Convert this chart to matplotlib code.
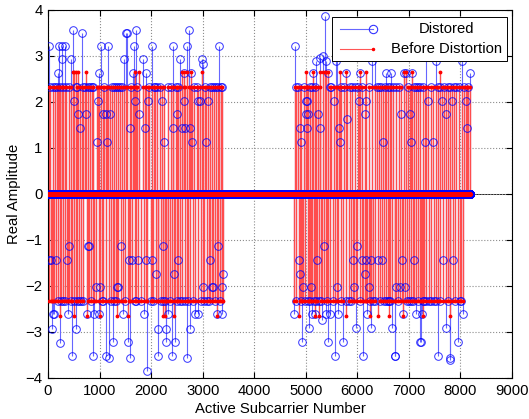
import numpy as np
import matplotlib
matplotlib.use('Agg')
import matplotlib.pyplot as plt
from matplotlib.patches import Rectangle

plt.rcParams['font.family'] = ['Liberation Sans', 'DejaVu Sans']

# Number of subcarriers (index axis)
n_sub = 8192

# Left band, positive values: subcarrier, distorted, before distortion
upl_x = [20, 45, 100, 140, 181, 200, 220, 240, 265, 275, 300, 336, 343, 400, 446, 491, 504, 543, 560, 588,
         620, 653, 685, 710, 737, 780, 814, 847, 870, 943, 976, 989, 1027, 1060, 1090, 1124, 1137, 1157, 1202,
         1250, 1285, 1318, 1350, 1400, 1440, 1473, 1512, 1538, 1589, 1620, 1641, 1673, 1686, 1706, 1730, 1770,
         1835, 1880, 1899, 1945, 1960, 2009, 2050, 2074, 2120, 2171, 2203, 2248, 2320, 2378, 2416, 2429, 2480,
         2507, 2530, 2558, 2591, 2636, 2642, 2655, 2688, 2739, 2752, 2772, 2785, 2840, 2881, 2914, 2946, 2991,
         3005, 3040, 3062, 3108, 3140, 3180, 3230, 3256, 3301, 3314, 3350, 3380]
upl_dist = [3.22, 2.33, 2.33, 2.33, 2.33, 2.62, 3.22, 2.33, 3.22, 2.93, 2.33, 3.22, 2.33, 2.33, 2.93, 3.56, 2.02,
            2.33, 2.33, 1.73, 1.43, 3.50, 2.33, 2.33, 1.73, 2.33, 2.33, 2.33, 2.33, 1.13, 2.02, 2.62, 3.22, 1.73,
            2.33, 1.73, 1.13, 3.22, 1.73, 2.33, 2.33, 2.33, 2.33, 2.33, 2.33, 2.93, 3.50, 3.50, 1.43, 2.33, 2.62,
            3.22, 2.02, 3.56, 2.33, 1.73, 2.93, 1.43, 2.62, 2.02, 2.33, 3.22, 2.33, 2.33, 2.33, 2.33, 2.02, 1.13,
            2.33, 2.33, 3.22, 1.43, 2.33, 1.73, 2.33, 2.93, 1.43, 2.02, 2.62, 1.43, 3.22, 3.56, 1.43, 2.62, 1.13,
            2.33, 2.33, 2.02, 2.02, 2.93, 2.82, 2.33, 1.13, 2.02, 2.33, 2.33, 2.33, 2.33, 2.33, 3.22, 2.33, 2.33]
upl_before = [2.33, 2.33, 2.33, 2.33, 2.33, 2.33, 2.33, 2.33, 2.33, 2.33, 2.33, 2.33, 2.33, 2.33, 2.33, 2.65,
              2.65, 2.65, 2.33, 2.65, 2.33, 2.33, 2.33, 2.33, 2.65, 2.33, 2.33, 2.33, 2.33, 2.33, 2.33, 2.33,
              2.33, 2.33, 2.33, 2.33, 2.33, 2.33, 2.33, 2.33, 2.33, 2.33, 2.33, 2.33, 2.33, 2.33, 2.33, 2.33,
              2.33, 2.33, 2.33, 2.33, 2.65, 2.33, 2.33, 2.65, 2.33, 2.33, 2.33, 2.33, 2.33, 2.33, 2.33, 2.33,
              2.33, 2.33, 2.33, 2.33, 2.33, 2.33, 2.33, 2.33, 2.33, 2.33, 2.33, 2.33, 2.65, 2.33, 2.65, 2.33,
              2.65, 2.33, 2.33, 2.65, 2.33, 2.33, 2.33, 2.33, 2.33, 2.65, 2.33, 2.33, 2.33, 2.33, 2.33, 2.33,
              2.33, 2.33, 2.33, 2.33, 2.33, 2.33]

# Left band, negative values
lol_x = [26, 58, 71, 91, 123, 155, 185, 228, 255, 297, 330, 362, 394, 414, 440, 472, 511, 548, 569, 605, 640,
         680, 750, 782, 801, 840, 879, 892, 930, 995, 1008, 1040, 1075, 1118, 1176, 1215, 1253, 1279, 1325, 1336,
         1363, 1409, 1447, 1493, 1551, 1576, 1595, 1628, 1680, 1715, 1751, 1800, 1861, 1905, 1912, 1996, 2015,
         2042, 2093, 2126, 2140, 2185, 2222, 2235, 2268, 2281, 2295, 2332, 2360, 2397, 2435, 2462, 2500, 2526,
         2565, 2597, 2650, 2701, 2725, 2760, 2817, 2849, 2901, 2960, 3011, 3024, 3080, 3120, 3146, 3172, 3204,
         3240, 3269, 3295, 3330, 3366, 3385, 3398]
lol_dist = [-1.43, -1.43, -2.93, -2.62, -2.62, -1.43, -2.33, -3.25, -2.33, -2.33, -2.33, -1.43, -2.62, -1.13,
            -2.33, -3.52, -2.33, -2.93, -2.33, -2.33, -2.33, -2.33, -2.62, -1.13, -1.13, -2.33, -3.52, -2.62,
            -2.02, -2.62, -2.02, -2.33, -2.33, -3.52, -3.56, -2.33, -3.22, -2.33, -2.33, -2.02, -2.02, -1.13,
            -2.62, -2.33, -3.22, -1.43, -3.56, -1.43, -2.33, -2.33, -1.43, -2.33, -2.62, -1.43, -3.85, -2.33,
            -1.43, -2.33, -1.73, -3.52, -2.93, -2.33, -2.33, -1.13, -2.33, -2.93, -3.22, -2.62, -2.33, -3.52,
            -1.73, -3.22, -2.33, -1.43, -2.33, -2.33, -2.33, -3.56, -2.33, -2.93, -2.33, -2.62, -2.62, -2.33,
            -2.02, -2.33, -2.33, -2.33, -1.43, -2.02, -2.02, -2.33, -2.62, -1.13, -2.33, -2.62, -2.02, -1.73]
lol_before = [-2.33, -2.33, -2.33, -2.33, -2.33, -2.33, -2.33, -2.65, -2.33, -2.33, -2.33, -2.33, -2.33, -2.33,
              -2.33, -2.33, -2.65, -2.33, -2.33, -2.33, -2.33, -2.33, -2.65, -2.33, -2.33, -2.33, -2.33, -2.33,
              -2.33, -2.33, -2.65, -2.33, -2.33, -2.33, -2.33, -2.33, -2.33, -2.33, -2.33, -2.65, -2.33, -2.33,
              -2.33, -2.33, -2.65, -2.33, -2.33, -2.33, -2.33, -2.33, -2.33, -2.33, -2.33, -2.33, -2.33, -2.33,
              -2.33, -2.33, -2.33, -2.33, -2.33, -2.33, -2.33, -2.65, -2.65, -2.33, -2.33, -2.33, -2.33, -2.33,
              -2.65, -2.33, -2.33, -2.33, -2.33, -2.33, -2.33, -2.33, -2.33, -2.33, -2.33, -2.33, -2.33, -2.33,
              -2.33, -2.33, -2.33, -2.33, -2.33, -2.33, -2.33, -2.33, -2.65, -2.33, -2.33, -2.33, -2.33, -2.33]

# Right band, positive values
upr_x = [4787, 4807, 4850, 4897, 4917, 4960, 5000, 5013, 5026, 5033, 5046, 5078, 5115, 5143, 5185, 5207, 5240,
         5272, 5285, 5336, 5369, 5401, 5433, 5465, 5498, 5543, 5582, 5615, 5646, 5672, 5692, 5735, 5776, 5802,
         5850, 5900, 5950, 6015, 6034, 6047, 6100, 6144, 6163, 6230, 6292, 6338, 6380, 6420, 6460, 6499, 6540,
         6564, 6596, 6625, 6661, 6693, 6750, 6800, 6855, 6900, 6951, 6990, 7016, 7048, 7068, 7105, 7145, 7178,
         7225, 7270, 7307, 7340, 7371, 7420, 7468, 7520, 7560, 7597, 7649, 7690, 7727, 7759, 7805, 7843, 7880,
         7920, 7970, 8037, 8070, 8101, 8127, 8150, 8179]
upr_dist = [3.22, 2.33, 2.33, 1.43, 1.13, 2.33, 2.02, 1.73, 1.43, 2.02, 1.73, 2.33, 2.33, 2.62, 2.33, 2.90, 1.73,
            2.96, 1.43, 3.00, 3.87, 2.90, 2.62, 2.33, 2.33, 2.02, 2.90, 3.22, 1.43, 1.13, 2.33, 2.33, 2.62, 1.62,
            2.33, 2.33, 2.33, 2.33, 2.02, 2.62, 2.33, 1.73, 2.02, 2.33, 2.90, 3.35, 2.33, 2.33, 2.33, 1.13, 2.33,
            2.62, 2.33, 2.33, 2.62, 2.33, 2.33, 2.33, 1.73, 2.62, 2.62, 2.33, 1.73, 1.13, 2.62, 2.33, 2.33, 2.33,
            2.33, 2.33, 1.13, 3.30, 2.02, 2.33, 1.13, 2.90, 2.33, 2.33, 2.02, 2.33, 1.73, 2.33, 2.33, 2.02, 2.33,
            2.33, 2.33, 2.90, 2.33, 2.02, 1.43, 2.33, 2.62]
upr_before = [2.33, 2.33, 2.33, 2.33, 2.33, 2.33, 2.33, 2.65, 2.33, 2.33, 2.33, 2.33, 2.33, 2.65, 2.33, 2.33,
              2.33, 2.65, 2.33, 2.65, 2.65, 2.65, 2.65, 2.33, 2.33, 2.33, 2.33, 2.33, 2.33, 2.65, 2.33, 2.33,
              2.65, 2.33, 2.33, 2.33, 2.33, 2.33, 2.33, 2.65, 2.33, 2.33, 2.65, 2.33, 2.33, 2.33, 2.33, 2.33,
              2.33, 2.33, 2.33, 2.33, 2.33, 2.33, 2.33, 2.33, 2.33, 2.33, 2.33, 2.65, 2.65, 2.33, 2.33, 2.33,
              2.65, 2.33, 2.33, 2.33, 2.33, 2.33, 2.33, 2.33, 2.33, 2.33, 2.33, 2.33, 2.33, 2.65, 2.33, 2.33,
              2.33, 2.33, 2.33, 2.33, 2.33, 2.33, 2.33, 2.33, 2.33, 2.33, 2.33, 2.33, 2.33]

# Right band, negative values
lor_x = [4774, 4820, 4860, 4880, 4910, 4936, 4949, 4990, 5040, 5065, 5090, 5110, 5130, 5160, 5175, 5200, 5220,
         5250, 5300, 5323, 5356, 5388, 5415, 5440, 5478, 5520, 5562, 5608, 5634, 5680, 5724, 5789, 5840, 5880,
         5918, 5931, 5969, 5995, 6060, 6099, 6112, 6150, 6176, 6189, 6228, 6241, 6260, 6273, 6305, 6350, 6402,
         6440, 6486, 6520, 6551, 6590, 6615, 6628, 6680, 6725, 6740, 6758, 6790, 6822, 6860, 6887, 6919, 6960,
         7000, 7040, 7081, 7094, 7132, 7170, 7210, 7230, 7261, 7274, 7287, 7330, 7390, 7436, 7480, 7525, 7565,
         7610, 7662, 7714, 7750, 7791, 7804, 7850, 7900, 7953, 7985, 8010, 8045]
lor_dist = [-2.62, -2.33, -1.43, -1.73, -2.33, -3.22, -2.02, -2.33, -2.33, -2.92, -2.33, -2.02, -2.62, -2.33,
            -2.62, -2.33, -1.43, -2.33, -2.33, -2.75, -1.13, -2.62, -2.33, -3.22, -2.62, -2.33, -3.52, -2.02,
            -2.62, -2.33, -3.22, -2.33, -2.33, -2.33, -1.43, -2.02, -2.92, -1.13, -2.33, -1.43, -3.52, -1.73,
            -1.43, -2.62, -2.02, -2.33, -2.92, -1.43, -2.33, -2.33, -1.43, -2.33, -1.43, -2.33, -2.33, -2.33,
            -2.33, -2.33, -2.92, -3.52, -3.52, -2.02, -2.33, -2.02, -1.43, -2.62, -2.02, -2.33, -2.33, -2.33,
            -2.33, -1.43, -2.62, -2.33, -3.22, -3.22, -2.62, -2.33, -2.33, -2.33, -2.33, -2.33, -2.33, -2.33,
            -3.52, -2.33, -1.43, -2.92, -2.33, -3.56, -3.62, -1.43, -2.33, -3.22, -2.33, -2.33, -2.62]
lor_before = [-2.33, -2.33, -2.65, -2.33, -2.33, -2.33, -2.33, -2.33, -2.33, -2.33, -2.33, -2.33, -2.33, -2.33,
              -2.65, -2.33, -2.33, -2.65, -2.33, -2.33, -2.33, -2.33, -2.33, -2.33, -2.33, -2.33, -2.33, -2.33,
              -2.33, -2.33, -2.33, -2.65, -2.33, -2.33, -2.33, -2.33, -2.33, -2.33, -2.33, -2.33, -2.33, -2.33,
              -2.33, -2.33, -2.33, -2.65, -2.33, -2.33, -2.33, -2.33, -2.65, -2.33, -2.33, -2.33, -2.33, -2.33,
              -2.65, -2.33, -2.33, -2.33, -2.33, -2.33, -2.33, -2.33, -2.33, -2.65, -2.33, -2.33, -2.33, -2.33,
              -2.33, -2.33, -2.33, -2.33, -2.33, -2.33, -2.33, -2.65, -2.33, -2.33, -2.33, -2.33, -2.33, -2.33,
              -2.33, -2.33, -2.33, -2.33, -2.33, -2.33, -2.65, -2.33, -2.33, -2.33, -2.33, -2.33, -2.33]

# Build full-length series (zero everywhere else)
sub = np.arange(n_sub)
distorted = np.zeros(n_sub)
before = np.zeros(n_sub)
for xs, d, b in [(upl_x, upl_dist, upl_before), (lol_x, lol_dist, lol_before),
                 (upr_x, upr_dist, upr_before), (lor_x, lor_dist, lor_before)]:
    distorted[xs] = d
    before[xs] = b

fig = plt.figure(figsize=(5.29, 4.19), dpi=100)
ax = fig.add_axes([0.0907, 0.0979, 0.8771, 0.8783])

ax.axhline(0, color='k', lw=0.6, zorder=1)

# Distorted stems (blue, open circles)
ml, sl, bl = ax.stem(sub, distorted, linefmt='b-', markerfmt='o', basefmt=' ')
sl.set_linewidth(0.8)
sl.set_color('#6666ff')
sl.set_zorder(2)
ml.set_markerfacecolor('none')
ml.set_markeredgecolor('#0000ff')
ml.set_markersize(5.5)
ml.set_markeredgewidth(0.7)
ml.set_alpha(0.8)
ml.set_zorder(3)

# Before distortion stems (red dots)
ml2, sl2, bl2 = ax.stem(sub, before, linefmt='r-', markerfmt='r.', basefmt=' ')
sl2.set_linewidth(1.0)
sl2.set_color('#ff4d4d')
sl2.set_zorder(2.5)
ml2.set_markersize(3.5)
ml2.set_zorder(3.5)

ax.set_xlim(0, 9000)
ax.set_ylim(-4, 4)
ax.set_xticks(np.arange(0, 9001, 1000))
ax.set_yticks(np.arange(-4, 5, 1))
ax.grid(True, linestyle=':', color='0.55', lw=0.8)
ax.tick_params(direction='in', top=True, right=True, labelsize=10.7, pad=4, length=4)
for sp in ax.spines.values():
    sp.set_linewidth(0.8)

ax.set_xlabel('Active Subcarrier Number', fontsize=10.7, labelpad=3)
ax.set_ylabel('Real Amplitude', fontsize=10.7, labelpad=3)

# Legend box (MATLAB style, text centred)
ax.add_patch(Rectangle((0.612, 0.861), 0.377, 0.12, transform=ax.transAxes,
                       facecolor='white', edgecolor='k', lw=0.7, zorder=5))
ax.plot([0.629, 0.700], [0.948, 0.948], transform=ax.transAxes, color='#6666ff', lw=0.8, zorder=6)
ax.plot([0.700], [0.948], 'o', transform=ax.transAxes, mfc='none', mec='#3333ff', ms=6, mew=0.8, zorder=6)
ax.plot([0.629, 0.700], [0.893, 0.893], transform=ax.transAxes, color='#ff5555', lw=0.8, zorder=6)
ax.plot([0.700], [0.893], '.', transform=ax.transAxes, color='red', ms=3, zorder=6)
ax.text(0.858, 0.948, 'Distored', transform=ax.transAxes, ha='center', va='center', fontsize=10.7, zorder=7)
ax.text(0.858, 0.893, 'Before Distortion', transform=ax.transAxes, ha='center', va='center', fontsize=10.7, zorder=7)

fig.savefig('out.png', dpi=100)
